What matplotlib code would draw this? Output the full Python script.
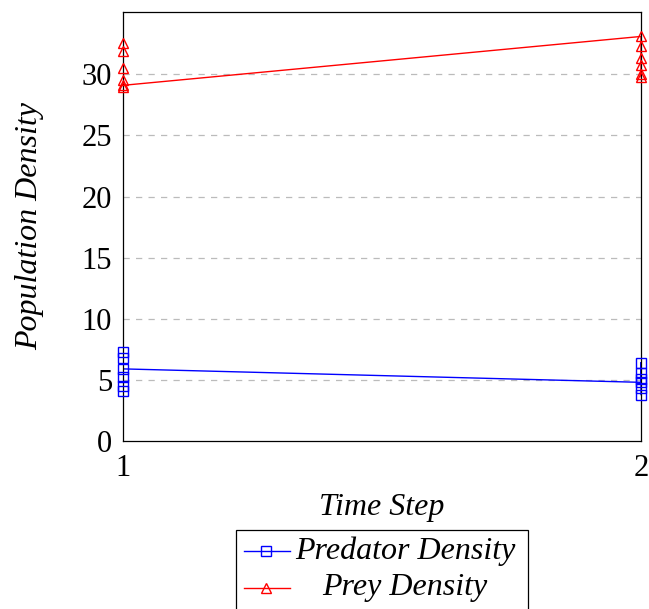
import numpy as np
import matplotlib
matplotlib.use("Agg")
import matplotlib.pyplot as plt
from matplotlib.patches import Rectangle
from matplotlib.lines import Line2D

plt.rcParams['font.family'] = ['Liberation Serif', 'DejaVu Serif']
plt.rcParams['mathtext.fontset'] = 'stix'

# data: several runs at each time step, listed in plotting order
pred_t = [1, 1, 1, 1, 1, 1, 2, 2, 2, 2, 2, 2]
pred_y = [7.3, 6.8, 5.2, 4.5, 4.1, 5.9, 4.8, 6.4, 5.6, 5.1, 4.3, 3.8]
prey_t = [1, 1, 1, 1, 1, 1, 2, 2, 2, 2, 2, 2]
prey_y = [32.6, 31.9, 30.5, 29.5, 29.0, 29.1, 33.1, 32.3, 31.3, 30.8, 30.0, 29.8]
y_ticks = [0, 5, 10, 15, 20, 25, 30]
x_ticks = [1, 2]

W, H = 649, 609
fig = plt.figure(figsize=(W / 100, H / 100), dpi=100)
# axes box in pixels: left 123, right 641, top 12, bottom 441
ax = fig.add_axes([123 / W, 1 - 441 / H, (641 - 123) / W, (441 - 12) / H])

fs = 22    # tick labels
lfs = 23   # axis labels and legend

# connecting lines sit under the spines, markers on top
ax.plot(pred_t, pred_y, color='#0000ff', lw=1, zorder=2)
ax.plot(prey_t, prey_y, color='#ff0000', lw=1, zorder=2)
ax.plot(pred_t, pred_y, ls='none', marker='s', ms=7.5, mfc='none', mec='#0000ff',
        mew=1, zorder=3, clip_on=False)
ax.plot(prey_t, prey_y, ls='none', marker='^', ms=7.5, mfc='none', mec='#ff0000',
        mew=1, zorder=3, clip_on=False)

ax.set_xlim(1, 2)
ax.set_ylim(0, 35.1)
ax.set_xticks(x_ticks)
ax.set_yticks(y_ticks)
ax.tick_params(length=0, labelsize=fs)
ax.tick_params(axis='x', pad=9)
ax.tick_params(axis='y', pad=8)
for yv in y_ticks[1:]:
    ax.axhline(yv, color='#bbbbbb', lw=0.9, ls=(0, (5, 5)), zorder=1)
for s in ax.spines.values():
    s.set_linewidth(0.9)
    s.set_color('black')

fig.text(382 / W, 1 - 507 / H, 'Time Step', fontsize=lfs, style='italic',
         ha='center', va='center')
fig.text(30 / W, 1 - 226 / H, 'Population Density', fontsize=lfs, style='italic',
         ha='center', va='center', rotation=90)

# legend box, centred text like pgfplots
fig.add_artist(Rectangle((236 / W, 1 - 640 / H), (528 - 236) / W, (640 - 530) / H,
                         transform=fig.transFigure, fill=False, ec='black', lw=0.9))
entries = [('Predator Density', '#0000ff', 's', 551), ('Prey Density', '#ff0000', '^', 588)]
for label, col, mk, yp in entries:
    yy = 1 - yp / H
    fig.add_artist(Line2D([244 / W, 290 / W], [yy, yy], transform=fig.transFigure,
                          color=col, lw=1))
    fig.add_artist(Line2D([266 / W], [yy], transform=fig.transFigure, marker=mk,
                          ms=7.5, mfc='none', mec=col, mew=1, ls='none'))
    fig.text(405 / W, yy, label, fontsize=lfs, style='italic', ha='center', va='center')

fig.savefig('out.png', dpi=100)
